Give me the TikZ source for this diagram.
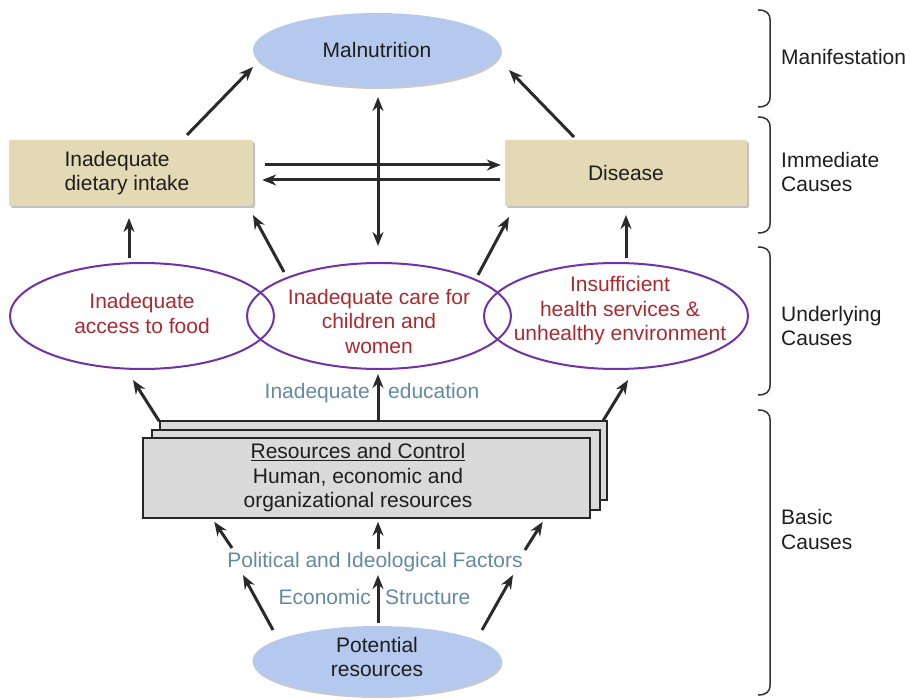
\documentclass[tikz,border=0pt]{standalone}
\usepackage{fontspec}
\setmainfont{Liberation Sans}
\usetikzlibrary{shapes.geometric,arrows.meta,calc,shadows}
\definecolor{bluefill}{RGB}{181,201,238}
\definecolor{tanfill}{RGB}{227,217,181}
\definecolor{purp}{RGB}{112,50,165}
\definecolor{darkred}{RGB}{170,42,48}
\definecolor{steel}{RGB}{98,138,162}
\definecolor{boxgray}{RGB}{218,218,218}
\definecolor{arrowc}{RGB}{42,42,42}
\definecolor{txtc}{RGB}{30,30,30}
\begin{document}
\begin{tikzpicture}[x=1pt,y=-1pt,
  every node/.style={font=\fontsize{21}{24.5}\selectfont, inner sep=0pt, text=txtc},
  arr/.style={draw=arrowc, line width=3pt, -{Stealth[length=14pt,width=11pt]}},
  darr/.style={draw=arrowc, line width=3pt, {Stealth[length=14pt,width=11pt]}-{Stealth[length=14pt,width=11pt]}},
  blueell/.style={ellipse, fill=bluefill, drop shadow={shadow xshift=1pt, shadow yshift=-2pt, fill=gray!70, opacity=0.6}},
  tanbox/.style={rectangle, fill=tanfill, rounded corners=2pt, drop shadow={shadow xshift=2pt, shadow yshift=-2pt, fill=gray!70, opacity=0.7}},
  purpell/.style={ellipse, draw=purp, line width=2pt, minimum width=264pt, minimum height=106pt},
  redtxt/.style={text=darkred, align=center},
  graybox/.style={rectangle, draw=black!85, line width=1.5pt, fill=boxgray, minimum width=447pt, minimum height=80pt},
  steeltxt/.style={text=steel, anchor=base},
  sidetxt/.style={anchor=west, align=left, text=txtc},
  bracec/.style={draw=black!80, line width=1.5pt}
]
\useasboundingbox (0,0) rectangle (911,700);

% manifestation
\node[blueell, minimum width=248pt, minimum height=74pt] (mal) at (377,50) {Malnutrition};

% immediate causes
\node[tanbox, minimum width=244pt, minimum height=66pt, align=left, label={[align=left, xshift=-4pt]center:{Inadequate\\dietary intake}}] (diet) at (131,173) {};
\node[tanbox, minimum width=242pt, minimum height=66pt] (dis) at (626,173) {Disease};

% underlying causes
\node[purpell, label={[redtxt, yshift=2.5pt]center:{Inadequate\\access to food}}] (food) at (142,316) {};
\node[purpell, label={[redtxt, yshift=-5pt]center:{Inadequate care for\\children and\\women}}] (care) at (379,316) {};
\node[purpell, label={[redtxt, xshift=4pt, yshift=5pt]center:{Insufficient\\health services \&\\unhealthy environment}}] (health) at (616,316) {};

% basic causes: resources stack
\node[graybox, minimum height=79pt] (res3) at (383.5,460.5) {};
\node[graybox, minimum width=448pt] (res2) at (376,470) {};
\node[graybox, label={[align=center, xshift=-8.5pt]center:{\underline{Resources and Control}\\Human, economic and\\organizational resources}}] (res1) at (366.5,478) {};

\node[blueell, minimum width=249pt, minimum height=70pt, label={[align=center, yshift=4pt]center:{Potential\\resources}}] (pot) at (377,661) {};

% labels
\node[steeltxt, anchor=base east] (edu1) at (370,399) {Inadequate};
\node[steeltxt, anchor=base west] (edu2) at (388,399) {education};
\node[steeltxt] (pol) at (375,567) {Political and Ideological Factors};
\node[steeltxt, anchor=base east] (eco1) at (371,605) {Economic};
\node[steeltxt, anchor=base west] (eco2) at (385,605) {Structure};

% arrows top
\draw[arr] ($(diet.center)+(56,-38)$) -- ($(mal.center)+(-124,17)$);
\draw[arr] ($(dis.center)+(-52,-36)$) -- ($(mal.center)+(132,20)$);
\draw[darr] ($(mal.center)+(1,47)$) -- ($(care.center)+(-1,-70)$);
\draw[arr] ($(diet.east)+(12,-8)$) -- ($(dis.west)+(-4,-8)$);
\draw[arr] ($(dis.west)+(-5,7)$) -- ($(diet.east)+(9,7)$);

% underlying -> immediate
\draw[arr] ($(food.center)+(-13,-58)$) -- ($(diet.center)+(-2,45)$);
\draw[arr] ($(care.center)+(-95,-44)$) -- ($(diet.center)+(122,42)$);
\draw[arr] ($(care.center)+(99,-41)$) -- ($(dis.center)+(-117,44)$);
\draw[arr] ($(health.center)+(10,-58)$) -- ($(dis.center)+(0,42)$);

% resources -> underlying
\draw[arr] ($(res3.north west)+(0,1)$) -- ($(food.center)+(-9,64)$);
\draw[arr] ($(res3.north east)+(-5,1)$) -- ($(health.center)+(12,64)$);
\draw[arr] ($(res3.north)+(-5.5,0)$) -- ($(care.center)+(-1,58)$);

% potential -> political
\draw[arr] ($(pot.center)+(-104,-31)$) -- ($(pol.base)+(-132,8)$);
\draw[arr] ($(pot.center)+(1,-38)$) -- ($(pol.base)+(3,8)$);
\draw[arr] ($(pot.center)+(105,-31)$) -- ($(pol.base)+(138,8)$);

% political -> resources
\draw[arr] ($(pol.base)+(-143,-19)$) -- ($(res1.south west)+(72,3)$);
\draw[arr] ($(pol.base)+(3,-18)$) -- ($(res1.south)+(11.5,3)$);
\draw[arr] ($(pol.base)+(150,-17)$) -- ($(res1.south east)+(-48,3)$);

% braces
\draw[bracec] (758,10) .. controls (766,10) and (770,13) .. (770,20) -- (770,97) .. controls (770,104) and (766,107) .. (758,107);
\draw[bracec] (758,117) .. controls (766,117) and (770,120) .. (770,127) -- (770,223) .. controls (770,230) and (766,233) .. (758,233);
\draw[bracec] (758,247) .. controls (766,247) and (770,250) .. (770,257) -- (770,385) .. controls (770,392) and (766,395) .. (758,395);
\draw[bracec] (758,410) .. controls (766,410) and (770,413) .. (770,420) -- (770,685) .. controls (770,692) and (766,695) .. (758,695);

\node[sidetxt] (lab1) at (781,57) {Manifestation};
\node[sidetxt] (lab2) at (781,172) {Immediate\\Causes};
\node[sidetxt] (lab3) at (781,326) {Underlying\\Causes};
\node[sidetxt] (lab4) at (781,529.5) {Basic\\Causes};
\end{tikzpicture}
\end{document}
